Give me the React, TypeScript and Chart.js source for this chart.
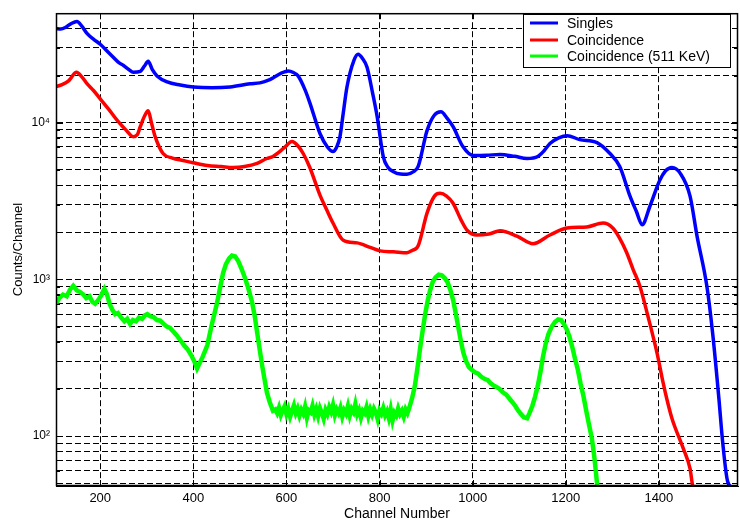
import React, { useEffect, useRef } from "react";
import { Chart, registerables } from "chart.js";

Chart.register(...registerables);

// ---- Data ----
const singlesChannels = [105, 115, 125, 138, 150, 160, 172, 186, 200, 214, 228, 240, 250, 262, 271, 286, 295, 303, 312, 322, 344, 372, 400, 440, 479, 522, 543, 560, 571, 590, 604, 615, 625, 640, 651, 672, 688, 700, 708, 715, 722, 730, 745, 754, 763, 773, 785, 795, 808, 818, 829, 845, 859, 872, 883, 902, 918, 932, 945, 958, 979, 1001, 1030, 1059, 1090, 1117, 1140, 1153, 1166, 1185, 1203, 1230, 1267, 1295, 1316, 1338, 1352, 1364, 1381, 1402, 1415, 1428, 1446, 1467, 1482, 1503, 1516, 1529, 1537, 1548, 1560, 1570];
const singlesCounts = [40000, 39600, 40500, 43000, 44300, 41500, 37000, 34000, 31700, 28800, 26200, 24200, 23200, 21800, 21000, 21300, 23000, 24700, 21800, 19900, 18200, 17400, 16900, 16700, 16900, 17700, 17950, 18600, 19300, 20800, 21400, 20900, 19900, 16200, 13200, 8530, 7000, 6550, 7000, 8150, 11500, 16900, 25000, 27400, 25800, 22650, 15500, 10900, 6085, 5200, 4890, 4700, 4680, 4850, 5260, 8900, 11200, 11740, 10700, 9430, 7040, 6180, 6200, 6270, 6100, 5910, 6090, 6600, 7360, 8000, 8270, 7800, 7470, 6360, 5260, 3400, 2700, 2230, 2940, 4290, 4950, 5180, 4750, 3400, 1890, 910, 440, 173, 92, 51, 47, 47];

const coincChannels = [105, 118, 132, 149, 160, 172, 186, 200, 218, 237, 255, 271, 280, 286, 295, 303, 310, 318, 335, 355, 378, 400, 430, 460, 485, 510, 537, 558, 571, 595, 612, 625, 636, 650, 672, 686, 700, 722, 752, 780, 801, 830, 859, 870, 883, 902, 918, 930, 944, 958, 975, 988, 1009, 1035, 1059, 1095, 1130, 1166, 1203, 1245, 1280, 1301, 1315, 1331, 1345, 1359, 1376, 1396, 1409, 1417, 1428, 1452, 1467, 1473, 1480];
const coincCounts = [17000, 17500, 18500, 21000, 19700, 17700, 16000, 14200, 12200, 10300, 9000, 8150, 8400, 9430, 11000, 11900, 10000, 8150, 6360, 5950, 5740, 5550, 5330, 5250, 5180, 5250, 5500, 5910, 6090, 6900, 7580, 7100, 6360, 5200, 3450, 2800, 2290, 1780, 1710, 1600, 1520, 1500, 1480, 1530, 1640, 2650, 3400, 3540, 3400, 3060, 2400, 2060, 1920, 1950, 2040, 1890, 1690, 1920, 2130, 2160, 2290, 2130, 1850, 1480, 1150, 910, 590, 340, 220, 173, 130, 84, 62, 48, 46];

const peak511Channels = [105, 112, 120, 128, 135, 142, 150, 157, 164, 170, 177, 183, 189, 196, 203, 209, 214, 220, 226, 232, 238, 245, 252, 258, 264, 270, 277, 283, 290, 296, 301, 308, 315, 322, 329, 336, 343, 350, 357, 364, 372, 380, 387, 395, 402, 408, 413, 420, 430, 440, 451, 458, 464, 470, 477, 483, 490, 497, 504, 511, 518, 526, 532, 537, 543, 548, 553, 558, 564, 571, 576, 580, 584, 588, 592, 596, 600, 604, 608, 612, 616, 620, 624, 628, 632, 636, 640, 644, 648, 652, 656, 660, 664, 668, 672, 676, 680, 684, 688, 692, 696, 700, 704, 708, 712, 716, 720, 724, 728, 732, 736, 740, 744, 748, 752, 756, 760, 764, 768, 772, 776, 780, 784, 788, 792, 796, 800, 804, 808, 812, 816, 820, 824, 828, 832, 836, 840, 844, 848, 852, 856, 860, 864, 870, 876, 882, 888, 893, 898, 903, 908, 914, 920, 927, 934, 940, 946, 952, 958, 964, 970, 975, 980, 986, 992, 998, 1005, 1012, 1018, 1025, 1032, 1038, 1045, 1052, 1058, 1065, 1072, 1078, 1085, 1092, 1098, 1104, 1110, 1117, 1122, 1128, 1134, 1140, 1146, 1151, 1157, 1163, 1170, 1177, 1184, 1190, 1196, 1202, 1208, 1214, 1220, 1226, 1232, 1238, 1244, 1250, 1256, 1261, 1265, 1268];
const peak511Counts = [700, 760, 800, 780, 860, 910, 850, 830, 800, 760, 780, 720, 700, 740, 800, 870, 810, 700, 640, 600, 610, 570, 540, 560, 520, 550, 540, 570, 560, 590, 600, 580, 575, 550, 545, 520, 500, 490, 465, 440, 410, 380, 360, 330, 300, 270, 290, 320, 380, 520, 710, 900, 1100, 1250, 1360, 1420, 1400, 1300, 1160, 1020, 880, 720, 580, 460, 350, 280, 230, 190, 165, 145, 148, 140, 152, 136, 146, 155, 138, 149, 133, 145, 157, 140, 150, 135, 147, 139, 154, 131, 146, 142, 156, 137, 149, 134, 151, 141, 129, 147, 138, 153, 143, 158, 136, 148, 140, 152, 133, 146, 139, 155, 135, 149, 142, 160, 138, 147, 131, 145, 140, 153, 134, 148, 137, 150, 142, 128, 146, 139, 151, 136, 144, 130, 148, 126, 141, 135, 150, 138, 145, 133, 148, 140, 152, 175, 210, 280, 380, 480, 600, 720, 840, 960, 1030, 1070, 1060, 1020, 960, 860, 740, 600, 480, 400, 340, 300, 275, 265, 255, 250, 240, 232, 228, 218, 210, 205, 200, 190, 184, 175, 165, 155, 145, 138, 132, 130, 140, 155, 178, 210, 260, 320, 390, 450, 500, 535, 555, 550, 520, 480, 430, 370, 310, 265, 215, 180, 145, 118, 97, 75, 58, 47];

const seriesNames = ["Singles", "Coincidence", "Coincidence (511 KeV)"];
const seriesColors = ["#0000ff", "#ff0000", "#00ff00"];

const xTickValues = [200, 400, 600, 800, 1000, 1200, 1400];
const yTickValues = [50, 60, 70, 80, 90, 100, 200, 300, 400, 500, 600, 700, 800, 900, 1000, 2000, 3000, 4000, 5000, 6000, 7000, 8000, 9000, 10000, 20000, 30000, 40000, 50000];
const yTickLabels: Record<number, string> = { 100: "10²", 1000: "10³", 10000: "10⁴" };

const X_MIN = 105;
const X_MAX = 1570;
const Y_MIN = 48;
const Y_MAX = 50000;

const FONT = "'Liberation Sans', Arial, sans-serif";

function pairs(xs: number[], ys: number[]) {
  return xs.map((x, i) => ({ x, y: ys[i] }));
}

const framePlugin = {
  id: "frameAndLegend",
  afterDatasetsDraw(chart: any) {
    const { ctx, chartArea } = chart;
    const { left, top, right, bottom } = chartArea;
    const yScale = chart.scales.y;
    const xScale = chart.scales.x;
    ctx.save();
    ctx.strokeStyle = "#000";
    ctx.lineWidth = 1;
    ctx.setLineDash([]);
    ctx.beginPath();
    for (const v of yTickValues) {
      const y = Math.round(yScale.getPixelForValue(v)) + 0.5;
      const len = yTickLabels[v] ? 7 : 4;
      ctx.moveTo(left, y);
      ctx.lineTo(left + len, y);
      ctx.moveTo(right, y);
      ctx.lineTo(right - len, y);
    }
    for (const v of xTickValues) {
      const x = Math.round(xScale.getPixelForValue(v)) + 0.5;
      ctx.moveTo(x, bottom);
      ctx.lineTo(x, bottom - 6);
      ctx.moveTo(x, top);
      ctx.lineTo(x, top + 6);
    }
    ctx.stroke();
    ctx.lineWidth = 1.5;
    ctx.strokeRect(left + 0.5, top + 0.5, right - left - 1, bottom - top - 1);

    // legend
    const lx = 523, ly = 14, lw = 207, lh = 53;
    ctx.fillStyle = "#fff";
    ctx.fillRect(lx, ly, lw, lh);
    ctx.lineWidth = 1;
    ctx.strokeStyle = "#000";
    ctx.strokeRect(lx + 0.5, ly + 0.5, lw, lh);
    const rows = [23, 40, 56];
    ctx.font = `14px ${FONT}`;
    ctx.textBaseline = "middle";
    ctx.textAlign = "left";
    seriesNames.forEach((name, i) => {
      ctx.strokeStyle = seriesColors[i];
      ctx.lineWidth = 3;
      ctx.beginPath();
      ctx.moveTo(530, rows[i]);
      ctx.lineTo(558, rows[i]);
      ctx.stroke();
      ctx.fillStyle = "#000";
      ctx.fillText(name, 567, rows[i] + 1);
    });
    ctx.restore();
  },
};

export default function App() {
  const canvasRef = useRef<HTMLCanvasElement | null>(null);

  useEffect(() => {
    if (!canvasRef.current) return;
    const datasets = [
      pairs(singlesChannels, singlesCounts),
      pairs(coincChannels, coincCounts),
      pairs(peak511Channels, peak511Counts),
    ].map((data, i) => ({
      label: seriesNames[i],
      data,
      borderColor: seriesColors[i],
      backgroundColor: seriesColors[i],
      borderWidth: i === 2 ? 4.5 : 3.5,
      pointRadius: 0,
      cubicInterpolationMode: i === 2 ? "default" : "monotone",
      tension: 0,
      fill: false,
    }));

    const chart = new Chart(canvasRef.current, {
      type: "line",
      data: { datasets },
      options: {
        animation: false,
        responsive: false,
        maintainAspectRatio: false,
        layout: { padding: { left: 0, top: 7, right: 2, bottom: 0 } },
        plugins: { legend: { display: false }, tooltip: { enabled: false } },
        scales: {
          x: {
            type: "linear",
            min: X_MIN,
            max: X_MAX,
            afterBuildTicks: (scale: any) => {
              scale.ticks = xTickValues.map((v) => ({ value: v }));
            },
            afterFit: (scale: any) => {
              scale.height = 40;
            },
            grid: { color: "#000", lineWidth: 1, drawTicks: false },
            border: { display: true, color: "#000", dash: [6, 3] },
            ticks: {
              color: "#000",
              padding: 5,
              maxRotation: 0,
              font: { family: FONT, size: 13 },
              callback: (v: any) => String(v),
            },
            title: {
              display: true,
              text: "Channel Number",
              color: "#000",
              font: { family: FONT, size: 14 },
              padding: { top: 0, bottom: 3 },
            },
          },
          y: {
            type: "logarithmic",
            min: Y_MIN,
            max: Y_MAX,
            afterBuildTicks: (scale: any) => {
              scale.ticks = yTickValues.map((v) => ({ value: v }));
            },
            afterFit: (scale: any) => {
              scale.width = 56;
            },
            grid: { color: "#000", lineWidth: 1, drawTicks: false },
            border: { display: true, color: "#000", dash: [6, 3] },
            ticks: {
              color: "#000",
              padding: 6,
              autoSkip: false,
              font: { family: FONT, size: 12 },
              callback: (v: any) => yTickLabels[Number(v)] || "",
            },
            title: {
              display: true,
              text: "Counts/Channel",
              color: "#000",
              font: { family: FONT, size: 13 },
              padding: { top: 11, bottom: 0 },
            },
          },
        },
      },
      plugins: [framePlugin],
    } as any);
    return () => chart.destroy();
  }, []);

  return (
    <div style={{ position: "fixed", left: 0, top: 0, width: 740, height: 526, background: "#fff" }}>
      <canvas ref={canvasRef} width={740} height={526} style={{ width: 740, height: 526, display: "block" }} />
    </div>
  );
}
